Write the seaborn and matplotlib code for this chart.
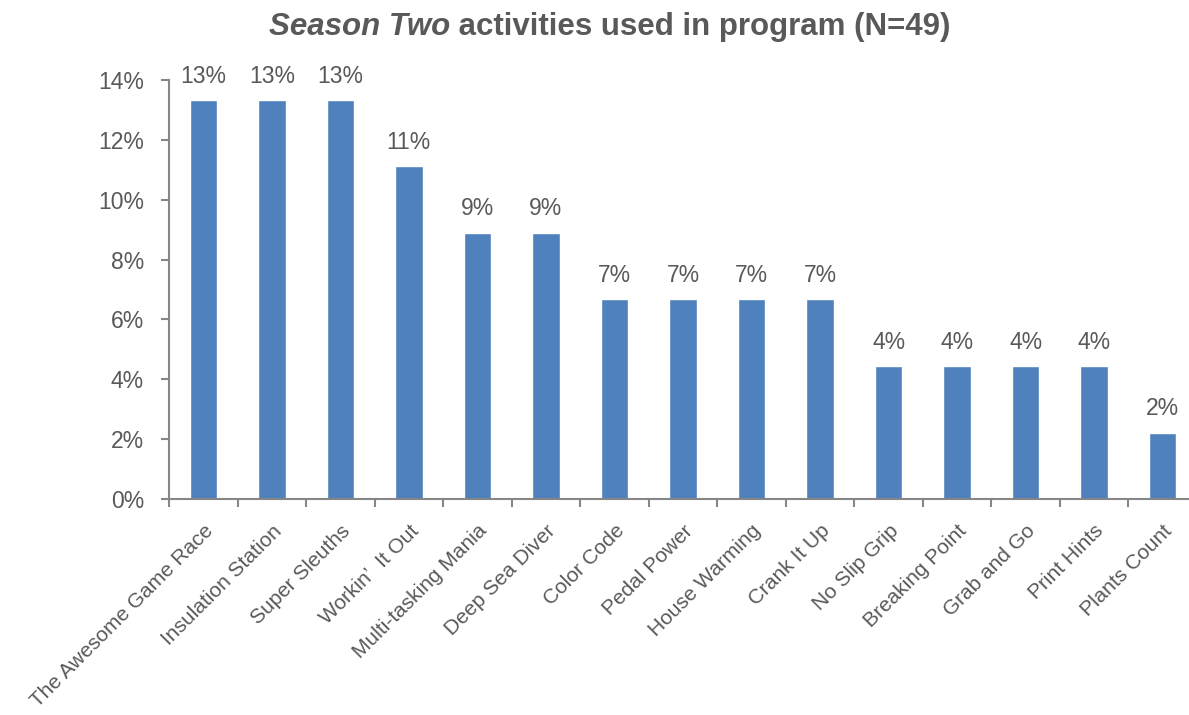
import matplotlib
matplotlib.use("Agg")
import matplotlib.pyplot as plt
from matplotlib.offsetbox import TextArea, HPacker, AnchoredOffsetbox
import seaborn as sns
import pandas as pd
import numpy as np

# Share of the 45 activity selections made in Season Two programs
activities = [
    "The Awesome Game Race", "Insulation Station", "Super Sleuths",
    "Workin\u2019  It Out", "Multi-tasking Mania", "Deep Sea Diver",
    "Color Code", "Pedal Power", "House Warming", "Crank It Up",
    "No Slip Grip", "Breaking Point", "Grab and Go", "Print Hints",
    "Plants Count",
]
share = [13.33, 13.33, 13.33, 11.11, 8.89, 8.89, 6.67, 6.67, 6.67, 6.67,
         4.44, 4.44, 4.44, 4.44, 2.22]
y_ticks = [0, 2, 4, 6, 8, 10, 12, 14]

sns.set_theme(style="white")
plt.rcParams["font.family"] = ["Liberation Sans Narrow", "Liberation Sans", "DejaVu Sans"]

TEXT = "#595959"
AXIS = "#868686"
BAR = "#4F81BD"

df = pd.DataFrame({"activity": activities, "share": share})

fig = plt.figure(figsize=(11.89, 7.15), dpi=100)
ax = fig.add_axes([169 / 1189, 1 - 499 / 715, 1028 / 1189, 419 / 715])

sns.barplot(data=df, x="activity", y="share", color=BAR, saturation=1,
            width=0.4, ax=ax)

for i, v in enumerate(share):
    ax.annotate(f"{v:.0f}%", (i, v), xytext=(0, 9), textcoords="offset points",
                ha="center", va="bottom", fontsize=16.5, color=TEXT)

ax.set_xlim(-0.5, len(activities) - 0.5)
ax.set_ylim(0, 14)
ax.set_yticks(y_ticks)
ax.set_yticklabels([f"{t}%" for t in y_ticks])
ax.set_xlabel("")
ax.set_ylabel("")

ax.set_xticks(np.arange(len(activities)))
ax.set_xticklabels(activities, rotation=45, ha="right", rotation_mode="anchor")
ax.set_xticks(np.arange(-0.5, len(activities)), minor=True)
ax.tick_params(axis="x", which="major", length=0, pad=16, labelsize=15, labelcolor=TEXT)
ax.tick_params(axis="x", which="minor", length=6, width=1.5, color=AXIS, direction="out", bottom=True)
ax.tick_params(axis="y", length=6, width=1.5, color=AXIS, direction="out", left=True,
               labelsize=16.5, labelcolor=TEXT, pad=12)

for side in ("top", "right"):
    ax.spines[side].set_visible(False)
for side in ("left", "bottom"):
    ax.spines[side].set_color(AXIS)
    ax.spines[side].set_linewidth(1.5)

# Title with the season name set in italics
part1 = TextArea("Season Two", textprops=dict(fontsize=22.5, fontweight="bold",
                                               fontstyle="italic", color=TEXT))
part2 = TextArea(" activities used in program (N=49)",
                 textprops=dict(fontsize=22.5, fontweight="bold", color=TEXT))
title = HPacker(children=[part1, part2], align="baseline", pad=0, sep=0)
anchored = AnchoredOffsetbox(loc="upper center", child=title, pad=0, frameon=False,
                             bbox_to_anchor=(610 / 1189, 1 - 12 / 715),
                             bbox_transform=fig.transFigure, borderpad=0)
fig.add_artist(anchored)

fig.savefig("out.png", dpi=100)
